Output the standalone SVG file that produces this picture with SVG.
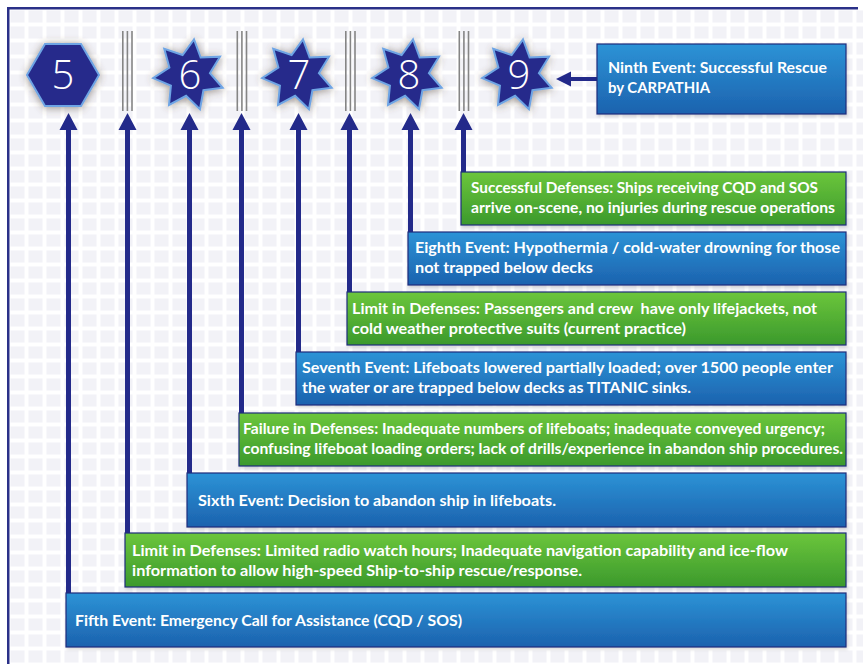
<svg xmlns="http://www.w3.org/2000/svg" width="863" height="664" viewBox="0 0 863 664">
<defs>
<pattern id="grid" x="9" y="9" width="18" height="16" patternUnits="userSpaceOnUse">
<rect width="18" height="16" fill="#ffffff"/>
<rect x="1.5" y="1.5" width="14" height="12" fill="#f2f2f7"/>
</pattern>
<linearGradient id="gBlue" x1="0" y1="0" x2="0" y2="1">
<stop offset="0" stop-color="#2c93d6"/>
<stop offset="1" stop-color="#1c62ae"/>
</linearGradient>
<linearGradient id="gGreen" x1="0" y1="0" x2="0" y2="1">
<stop offset="0" stop-color="#6cc63c"/>
<stop offset="1" stop-color="#3b992c"/>
</linearGradient>
<filter id="glow" x="-40%" y="-40%" width="180%" height="180%">
<feGaussianBlur in="SourceAlpha" stdDeviation="4"/>
<feComponentTransfer><feFuncA type="linear" slope="0.6"/></feComponentTransfer>
<feOffset dx="0" dy="1" result="b"/>
<feFlood flood-color="#5a4a3a"/>
<feComposite in2="b" operator="in"/>
<feMerge><feMergeNode/><feMergeNode in="SourceGraphic"/></feMerge>
</filter>
<filter id="shadow" x="-5%" y="-20%" width="110%" height="150%">
<feGaussianBlur in="SourceAlpha" stdDeviation="1.5"/>
<feOffset dx="1" dy="2" result="b"/>
<feFlood flood-color="#000" flood-opacity="0.15"/>
<feComposite in2="b" operator="in"/>
<feMerge><feMergeNode/><feMergeNode in="SourceGraphic"/></feMerge>
</filter>
<polygon id="star" points="5.01,-35.65 11.66,-17.47 31.00,-18.31 20.92,-1.78 33.64,12.82 14.44,15.25 10.95,34.29 -2.92,20.80 -19.98,29.95 -18.08,10.68 -35.87,3.05 -19.62,-7.48 -24.76,-26.14 -6.39,-20.00"/>
<g id="bars">
<rect x="0" y="0" width="1.6" height="80"/>
<rect x="4.6" y="0" width="1.6" height="80"/>
<rect x="9.2" y="0" width="1.6" height="80"/>
</g>
<polygon id="head" points="0,0 9,17 -9,17"/>
</defs>
<style>
.icon{fill:#252c8b;stroke:#6ea4e4;stroke-width:2;filter:url(#glow)}
.num{font-family:"Open Sans",Lato,"Liberation Sans",sans-serif;font-weight:300;font-size:40px;fill:#ffffff;text-anchor:middle}
.blue{fill:url(#gBlue);stroke:#1e2c7c;stroke-width:1.2;filter:url(#shadow)}
.green{fill:url(#gGreen);stroke:#1e2c7c;stroke-width:1.2;filter:url(#shadow)}
.t{font-family:Lato,"Open Sans","Liberation Sans",sans-serif;font-weight:700;font-size:15px;fill:#ffffff;white-space:pre}
.bar{fill:#858585}
.conn{fill:#232a8a}
.frame{fill:#2a3088}
</style>
<rect width="863" height="664" fill="#ffffff"/>
<rect x="9" y="9" width="854" height="655" fill="url(#grid)"/>
<rect class="frame" x="7" y="7" width="851" height="2.5"/>
<rect class="frame" x="7" y="7" width="2.5" height="657"/>

<g id="bars-group">
<use href="#bars" class="bar" x="122" y="31"/>
<use href="#bars" class="bar" x="236.5" y="31"/>
<use href="#bars" class="bar" x="345" y="31"/>
<use href="#bars" class="bar" x="458.5" y="31"/>
</g>

<g id="connectors" class="conn">
<rect x="66" y="129" width="5" height="465"/><use href="#head" x="68.5" y="113"/>
<rect x="125" y="129" width="5" height="405"/><use href="#head" x="127.5" y="113"/>
<rect x="187" y="129" width="5" height="345"/><use href="#head" x="189.5" y="113"/>
<rect x="239" y="129" width="5" height="285"/><use href="#head" x="241.5" y="113"/>
<rect x="296" y="129" width="5" height="224"/><use href="#head" x="298.5" y="113"/>
<rect x="347" y="129" width="5" height="164"/><use href="#head" x="349.5" y="113"/>
<rect x="408" y="129" width="5" height="104"/><use href="#head" x="410.5" y="113"/>
<rect x="461" y="129" width="5" height="44"/><use href="#head" x="463.5" y="113"/>
<rect x="568" y="77" width="30" height="4"/>
<polygon points="556,79 571,71.5 571,86.5"/>
</g>

<g id="icon5">
<polygon class="icon" points="27,75 45,44 81,44 99,75 81,106 45,106"/>
<text class="num" x="63" y="89">5</text>
</g>
<g id="icon6">
<use href="#star" class="icon" x="189" y="75"/>
<text class="num" x="190" y="89">6</text>
</g>
<g id="icon7">
<use href="#star" class="icon" x="298" y="75"/>
<text class="num" x="299" y="89">7</text>
</g>
<g id="icon8">
<use href="#star" class="icon" x="408" y="75"/>
<text class="num" x="409" y="89">8</text>
</g>
<g id="icon9">
<use href="#star" class="icon" x="518" y="75"/>
<text class="num" x="519" y="89">9</text>
</g>

<g id="ninth">
<rect class="blue" x="597" y="44" width="249" height="70"/>
<text class="t" x="608" y="73" textLength="219" lengthAdjust="spacingAndGlyphs">Ninth Event: Successful Rescue</text>
<text class="t" x="608" y="93" textLength="102" lengthAdjust="spacingAndGlyphs">by CARPATHIA</text>
</g>
<g id="successful-defenses">
<rect class="green" x="461" y="172" width="385" height="53"/>
<text class="t" x="471" y="193" textLength="347" lengthAdjust="spacingAndGlyphs">Successful Defenses: Ships receiving CQD and SOS</text>
<text class="t" x="471" y="213" textLength="364" lengthAdjust="spacingAndGlyphs">arrive on-scene, no injuries during rescue operations</text>
</g>
<g id="eighth">
<rect class="blue" x="408" y="232" width="438" height="53"/>
<text class="t" x="415" y="253" textLength="425" lengthAdjust="spacingAndGlyphs">Eighth Event: Hypothermia / cold-water drowning for those</text>
<text class="t" x="415" y="273" textLength="178" lengthAdjust="spacingAndGlyphs">not trapped below decks</text>
</g>
<g id="limit-defenses-7">
<rect class="green" x="347" y="292" width="499" height="53"/>
<text class="t" x="352" y="314" textLength="465" lengthAdjust="spacingAndGlyphs">Limit in Defenses: Passengers and crew  have only lifejackets, not</text>
<text class="t" x="352" y="334" textLength="334" lengthAdjust="spacingAndGlyphs">cold weather protective suits (current practice)</text>
</g>
<g id="seventh">
<rect class="blue" x="296" y="352" width="550" height="53"/>
<text class="t" x="302" y="373" textLength="531" lengthAdjust="spacingAndGlyphs">Seventh Event: Lifeboats lowered partially loaded; over 1500 people enter</text>
<text class="t" x="302" y="393" textLength="389" lengthAdjust="spacingAndGlyphs">the water or are trapped below decks as TITANIC sinks.</text>
</g>
<g id="failure-defenses">
<rect class="green" x="239" y="413" width="607" height="53"/>
<text class="t" x="243" y="434" textLength="582" lengthAdjust="spacingAndGlyphs">Failure in Defenses: Inadequate numbers of lifeboats; inadequate conveyed urgency;</text>
<text class="t" x="243" y="454" textLength="600" lengthAdjust="spacingAndGlyphs">confusing lifeboat loading orders; lack of drills/experience in abandon ship procedures.</text>
</g>
<g id="sixth">
<rect class="blue" x="187" y="473" width="659" height="54"/>
<text class="t" x="198" y="506" textLength="358" lengthAdjust="spacingAndGlyphs">Sixth Event: Decision to abandon ship in lifeboats.</text>
</g>
<g id="limit-defenses-radio">
<rect class="green" x="125" y="533" width="721" height="54"/>
<text class="t" x="132" y="556" textLength="656" lengthAdjust="spacingAndGlyphs">Limit in Defenses: Limited radio watch hours; Inadequate navigation capability and ice-flow</text>
<text class="t" x="132" y="576" textLength="450" lengthAdjust="spacingAndGlyphs">information to allow high-speed Ship-to-ship rescue/response.</text>
</g>
<g id="fifth">
<rect class="blue" x="66" y="593" width="780" height="54"/>
<text class="t" x="75" y="626" textLength="387" lengthAdjust="spacingAndGlyphs">Fifth Event: Emergency Call for Assistance (CQD / SOS)</text>
</g>
</svg>
